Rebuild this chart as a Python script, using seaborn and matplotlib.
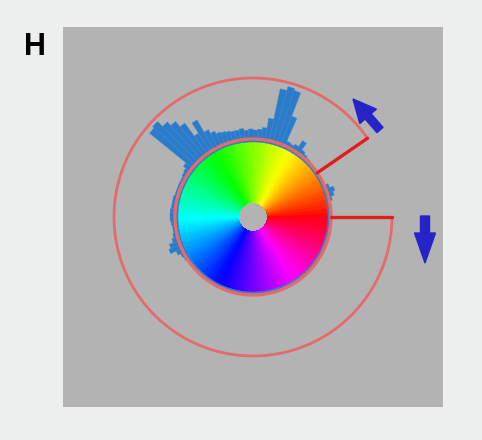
import numpy as np
import matplotlib.pyplot as plt
import seaborn as sns

sns.set_style('white')
plt.rcParams['font.family'] = ['Liberation Sans', 'DejaVu Sans']

# hue histogram, 3 degree bins starting at 0 deg (red), counter-clockwise
hue_counts = [
    3, 3, 3, 4, 6, 9, 11, 7, 4, 3, 3, 3,            # 0-36
    3, 4, 4, 5, 6, 8, 16, 9, 7, 8, 33, 58,          # 36-72
    60, 56, 25, 15, 13, 12, 13, 12, 14, 13, 13, 14,  # 72-108
    15, 16, 19, 23, 37, 25, 41, 48, 53, 60, 58, 11,  # 108-144
    8, 7, 6, 6, 6, 6, 6, 7, 7, 7, 8, 8,             # 144-180
    8, 7, 6, 6, 7, 9, 13, 15, 9, 6, 5, 4,           # 180-216
    2, 2, 2, 2, 2, 2, 2, 2, 2, 2, 2, 2,
    2, 2, 2, 2, 2, 2, 2, 2, 2, 2, 2, 2,
    2, 2, 2, 2, 2, 2, 2, 2, 2, 2, 2, 2,
    2, 2, 2, 2, 2, 2, 2, 2, 2, 2, 2, 2,
]
bin_deg = 3

wheel_r = [15, 75]
ring_r = 78
sel_outer_r = 139
sel_start_deg = 34.5
sel_end_deg = 360

fig = plt.figure(figsize=(4.82, 4.40), dpi=100, facecolor='#edefee')
rect = [63 / 482, 1 - 407 / 440, 380 / 482, 380 / 440]

bg = fig.add_axes(rect)
bg.set_facecolor('#b3b3b3')
bg.set_xlim(-190, 190)
bg.set_ylim(-190, 190)
bg.set_xticks([])
bg.set_yticks([])
for s in bg.spines.values():
    s.set_visible(False)

pax = fig.add_axes(rect, projection='polar')
pax.set_facecolor('none')
pax.set_ylim(0, 190)
pax.axis('off')

# colour wheel
th = np.radians(np.arange(0, 361, 1))
cval = (np.arange(360) + 0.5) / 360
pax.pcolormesh(th, wheel_r, cval[np.newaxis, :], cmap='hsv', vmin=0, vmax=1,
               shading='flat', edgecolors='face', linewidth=0.3)

# hue histogram
centers = np.radians(np.arange(len(hue_counts)) * bin_deg + bin_deg / 2)
pax.bar(centers, hue_counts, width=np.radians(bin_deg), bottom=wheel_r[1],
        color='#2b7bcb', edgecolor='#3d88d3', linewidth=0.3, zorder=2)

# selection outline
t = np.linspace(0, 2 * np.pi, 500)
pax.plot(t, np.full_like(t, ring_r), color='#e46b6b', lw=2.4, zorder=3)
ta = np.linspace(np.radians(sel_start_deg), np.radians(sel_end_deg), 500)
pax.plot(ta, np.full_like(ta, sel_outer_r), color='#e46b6b', lw=2.0, zorder=3)
for a in [0, sel_start_deg]:
    pax.plot([np.radians(a)] * 2, [ring_r, sel_outer_r], color='#e01c1c',
             lw=2.4, zorder=3)

# rotation arrows
bg.arrow(127, 87, -27, 31, width=8, head_width=22, head_length=23,
         length_includes_head=True, color='#2424c8', zorder=5)
bg.arrow(172, 1, 0, -47, width=9, head_width=21, head_length=30,
         length_includes_head=True, color='#2424c8', zorder=5)

fig.text(35 / 482, 1 - 47 / 440, 'H', ha='center', va='center',
         fontsize=22, fontweight='bold', color='black')

fig.savefig('out.png', dpi=100, facecolor=fig.get_facecolor())
